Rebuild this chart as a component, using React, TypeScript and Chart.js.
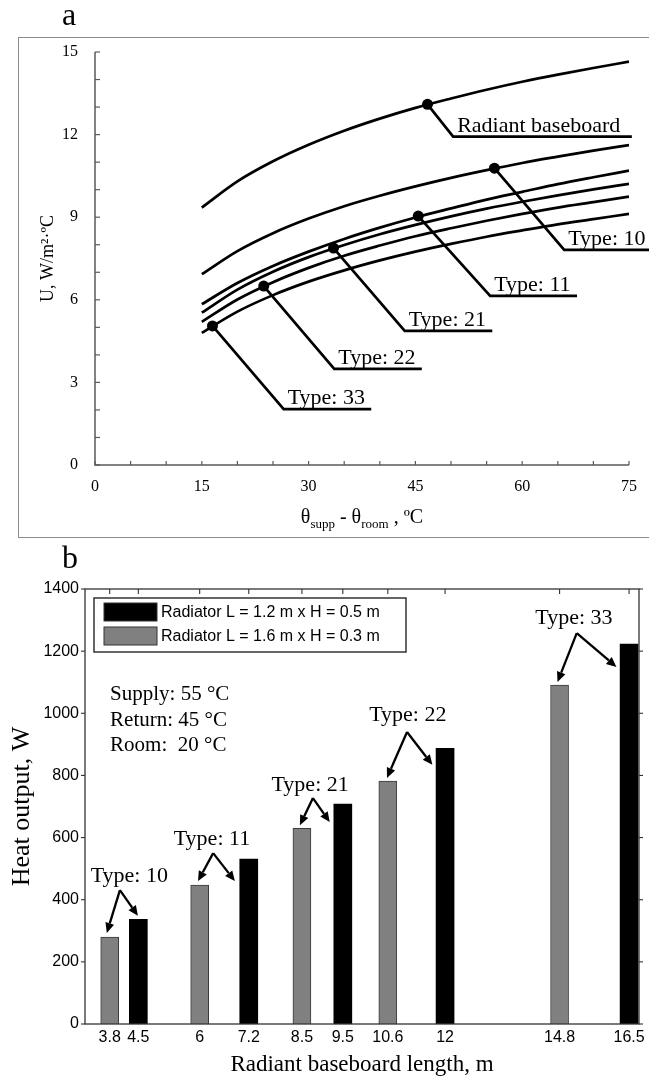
import React, { useEffect, useRef } from 'react';
import { Chart, registerables } from 'chart.js';
Chart.register(...registerables);

const SERIF = "'Liberation Serif', 'Times New Roman', serif";
const SANS = "'Liberation Sans', Arial, sans-serif";

// ---------- Panel a ----------
const DT = [15, 20, 25, 30, 35, 40, 45, 50, 55, 60, 65, 70, 75];
const U_RADIANT = [9.35, 10.3, 11.03, 11.63, 12.14, 12.58, 12.97, 13.31, 13.63, 13.92, 14.18, 14.42, 14.65];
const U_TYPE10 = [6.93, 7.77, 8.42, 8.95, 9.4, 9.78, 10.12, 10.43, 10.71, 10.97, 11.2, 11.42, 11.62];
const U_TYPE11 = [5.84, 6.61, 7.23, 7.75, 8.21, 8.62, 8.99, 9.32, 9.64, 9.92, 10.2, 10.45, 10.69];
const U_TYPE21 = [5.53, 6.37, 7.02, 7.55, 7.99, 8.38, 8.72, 9.03, 9.31, 9.56, 9.79, 10.01, 10.21];
const U_TYPE22 = [5.2, 6.01, 6.64, 7.16, 7.6, 7.97, 8.31, 8.6, 8.87, 9.12, 9.35, 9.55, 9.75];
const U_TYPE33 = [4.8, 5.57, 6.17, 6.66, 7.07, 7.43, 7.75, 8.03, 8.29, 8.52, 8.74, 8.93, 9.12];
const CURVES = [U_RADIANT, U_TYPE10, U_TYPE11, U_TYPE21, U_TYPE22, U_TYPE33];
const CURVE_NAMES = ['Radiant baseboard', 'Type: 10', 'Type: 11', 'Type: 21', 'Type: 22', 'Type: 33'];
const MARK_X = [46.7, 56.1, 45.4, 33.5, 23.7, 16.5];
const MARK_Y = [13.1, 10.78, 9.04, 7.88, 6.5, 5.05];
const ELBOW_X = [50.3, 65.9, 55.5, 43.5, 33.6, 26.5];
const ELBOW_Y = [11.93, 7.81, 6.14, 4.87, 3.49, 2.03];
const LEADER_END_X = [75.4, 78.5, 67.7, 55.8, 45.9, 38.8];

// ---------- Panel b ----------
const LENGTH_TICKS = [3.8, 4.5, 6, 7.2, 8.5, 9.5, 10.6, 12, 14.8, 16.5];
const LEN_12x05 = [4.5, 7.2, 9.5, 12, 16.5];
const Q_12x05 = [337, 531, 708, 887, 1223];
const LEN_16x03 = [3.8, 6, 8.5, 10.6, 14.8];
const Q_16x03 = [280, 447, 630, 782, 1091];
const SERIES_NAMES = ['Radiator L = 1.2 m x H = 0.5 m', 'Radiator L = 1.6 m x H = 0.3 m'];
const TYPE_LABELS = ['Type: 10', 'Type: 11', 'Type: 21', 'Type: 22', 'Type: 33'];
const LABEL_X = [4.28, 6.3, 8.7, 11.09, 15.15];
const LABEL_Y = [476, 595, 769, 993, 1305];
const APEX_X = [4.05, 6.33, 8.77, 11.07, 15.22];
const APEX_Y = [431, 550, 727, 940, 1258];
const HEAD_L_X = [3.73, 5.96, 8.45, 10.58, 14.75];
const HEAD_L_Y = [293, 460, 640, 792, 1101];
const HEAD_R_X = [4.49, 6.86, 9.18, 11.69, 16.19];
const HEAD_R_Y = [348, 460, 650, 834, 1149];
const COND_LINES = ['Supply: 55 °C', 'Return: 45 °C', 'Room:  20 °C'];
const COND_X = 3.81;
const COND_Y = [1043, 959, 879];

function seg(ctx: CanvasRenderingContext2D, x0: number, y0: number, x1: number, y1: number) {
  ctx.beginPath();
  ctx.moveTo(x0, y0);
  ctx.lineTo(x1, y1);
  ctx.stroke();
}

function arrow(ctx: CanvasRenderingContext2D, x0: number, y0: number, x1: number, y1: number) {
  const ang = Math.atan2(y1 - y0, x1 - x0);
  const L = 10, W = 4.5;
  const bx = x1 - L * Math.cos(ang), by = y1 - L * Math.sin(ang);
  seg(ctx, x0, y0, bx, by);
  ctx.beginPath();
  ctx.moveTo(x1, y1);
  ctx.lineTo(bx + W * Math.sin(ang), by - W * Math.cos(ang));
  ctx.lineTo(bx - W * Math.sin(ang), by + W * Math.cos(ang));
  ctx.closePath();
  ctx.fill();
}

const topPlugin = {
  id: 'topDecor',
  afterDraw(chart: any) {
    const { ctx, chartArea: a, scales } = chart;
    const x = scales.x, y = scales.y;
    ctx.save();
    ctx.strokeStyle = '#5a5a5a';
    ctx.lineWidth = 1.5;
    ctx.beginPath();
    ctx.moveTo(a.left, a.top);
    ctx.lineTo(a.left, a.bottom);
    ctx.lineTo(a.right, a.bottom);
    ctx.stroke();
    ctx.lineWidth = 1.2;
    y.ticks.forEach((t: any) => {
      const py = y.getPixelForValue(t.value);
      seg(ctx, a.left, py, a.left + 5, py);
    });
    x.ticks.forEach((t: any) => {
      const px = x.getPixelForValue(t.value);
      seg(ctx, px, a.bottom, px, a.bottom - 4);
    });
    ctx.fillStyle = '#000';
    ctx.font = `22px ${SERIF}`;
    ctx.textAlign = 'left';
    ctx.textBaseline = 'alphabetic';
    CURVE_NAMES.forEach((name, i) => {
      ctx.fillText(name, x.getPixelForValue(ELBOW_X[i]) + 4, y.getPixelForValue(ELBOW_Y[i]) - 5);
    });
    ctx.save();
    ctx.translate(a.left - 47, (a.top + a.bottom) / 2);
    ctx.rotate(-Math.PI / 2);
    ctx.textAlign = 'center';
    ctx.textBaseline = 'middle';
    ctx.font = `18px ${SERIF}`;
    ctx.fillText('U, W/m²·ºC', 0, 0);
    ctx.restore();
    const parts: [string, boolean][] = [['θ', false], ['supp', true], [' - θ', false], ['room', true], [' , ºC', false]];
    const mainF = `20px ${SERIF}`, subF = `13px ${SERIF}`;
    let total = 0;
    parts.forEach(([s, sub]) => { ctx.font = sub ? subF : mainF; total += ctx.measureText(s).width; });
    let cx = (a.left + a.right) / 2 - total / 2;
    const base = a.bottom + 58;
    ctx.textAlign = 'left';
    ctx.textBaseline = 'alphabetic';
    parts.forEach(([s, sub]) => {
      ctx.font = sub ? subF : mainF;
      ctx.fillText(s, cx, sub ? base + 5 : base);
      cx += ctx.measureText(s).width;
    });
    ctx.font = `32px ${SERIF}`;
    ctx.fillText('a', 62, 25);
    ctx.restore();
  },
};

const botPlugin = {
  id: 'botDecor',
  afterDraw(chart: any) {
    const { ctx, chartArea: a, scales } = chart;
    const x = scales.x, y = scales.y;
    ctx.save();
    ctx.strokeStyle = '#333';
    ctx.lineWidth = 1.3;
    ctx.strokeRect(a.left, a.top, a.right - a.left, a.bottom - a.top);
    ctx.lineWidth = 1.1;
    y.ticks.forEach((t: any) => {
      const py = y.getPixelForValue(t.value);
      seg(ctx, a.left - 4, py, a.left, py);
      seg(ctx, a.right, py, a.right + 4, py);
    });
    x.ticks.forEach((t: any) => {
      const px = x.getPixelForValue(t.value);
      seg(ctx, px, a.top, px, a.top + 5);
    });
    const lx = a.left + 9, ly = a.top + 9, lw = 312, lh = 54;
    ctx.fillStyle = '#fff';
    ctx.fillRect(lx, ly, lw, lh);
    ctx.strokeStyle = '#333';
    ctx.lineWidth = 1.5;
    ctx.strokeRect(lx, ly, lw, lh);
    ctx.font = `16px ${SANS}`;
    ctx.textAlign = 'left';
    ctx.textBaseline = 'middle';
    chart.data.datasets.forEach((ds: any, i: number) => {
      const cy = ly + 14 + i * 24;
      ctx.fillStyle = ds.backgroundColor;
      ctx.fillRect(lx + 10, cy - 9, 53, 18);
      ctx.strokeStyle = '#333';
      ctx.lineWidth = 1;
      ctx.strokeRect(lx + 10, cy - 9, 53, 18);
      ctx.fillStyle = '#000';
      ctx.fillText(ds.label, lx + 67, cy + 1);
    });
    ctx.fillStyle = '#000';
    ctx.font = `21px ${SERIF}`;
    ctx.textBaseline = 'alphabetic';
    COND_LINES.forEach((s, i) => {
      ctx.fillText(s, x.getPixelForValue(COND_X), y.getPixelForValue(COND_Y[i]));
    });
    ctx.font = `22px ${SERIF}`;
    ctx.textAlign = 'center';
    ctx.textBaseline = 'middle';
    ctx.strokeStyle = '#000';
    ctx.lineWidth = 2.3;
    TYPE_LABELS.forEach((s, i) => {
      ctx.fillText(s, x.getPixelForValue(LABEL_X[i]), y.getPixelForValue(LABEL_Y[i]));
      const ax = x.getPixelForValue(APEX_X[i]), ay = y.getPixelForValue(APEX_Y[i]);
      arrow(ctx, ax, ay, x.getPixelForValue(HEAD_L_X[i]), y.getPixelForValue(HEAD_L_Y[i]));
      arrow(ctx, ax, ay, x.getPixelForValue(HEAD_R_X[i]), y.getPixelForValue(HEAD_R_Y[i]));
    });
    ctx.save();
    ctx.translate(22, (a.top + a.bottom) / 2);
    ctx.rotate(-Math.PI / 2);
    ctx.font = `26px ${SERIF}`;
    ctx.textAlign = 'center';
    ctx.textBaseline = 'middle';
    ctx.fillText('Heat output, W', 0, 0);
    ctx.restore();
    ctx.font = `23px ${SERIF}`;
    ctx.textAlign = 'center';
    ctx.textBaseline = 'middle';
    ctx.fillText('Radiant baseboard length, m', (a.left + a.right) / 2, a.bottom + 41);
    ctx.font = `32px ${SERIF}`;
    ctx.textAlign = 'left';
    ctx.textBaseline = 'alphabetic';
    ctx.fillText('b', 62, 28);
    ctx.restore();
  },
};

function topConfig(): any {
  const datasets: any[] = [];
  datasets.push({
    data: MARK_X.map((mx, i) => ({ x: mx, y: MARK_Y[i] })),
    showLine: false,
    pointRadius: 5.5,
    pointBackgroundColor: '#000',
    pointBorderColor: '#000',
    pointBorderWidth: 0,
  });
  CURVES.forEach((arr) => {
    datasets.push({
      data: DT.map((d, j) => ({ x: d, y: arr[j] })),
      showLine: true,
      borderColor: '#000',
      borderWidth: 2.7,
      pointRadius: 0,
      cubicInterpolationMode: 'monotone',
    });
  });
  CURVE_NAMES.forEach((_, i) => {
    datasets.push({
      data: [
        { x: MARK_X[i], y: MARK_Y[i] },
        { x: ELBOW_X[i], y: ELBOW_Y[i] },
        { x: LEADER_END_X[i], y: ELBOW_Y[i] },
      ],
      showLine: true,
      borderColor: '#000',
      borderWidth: 2.7,
      borderJoinStyle: 'miter',
      pointRadius: 0,
      tension: 0,
      clip: false,
    });
  });
  return {
    type: 'scatter',
    data: { datasets },
    options: {
      responsive: false,
      animation: false,
      events: [],
      layout: { padding: { left: 0, right: 20, top: 52, bottom: 0 } },
      plugins: { legend: { display: false }, tooltip: { enabled: false } },
      scales: {
        x: {
          type: 'linear', min: 0, max: 75,
          grid: { display: false, drawTicks: false }, border: { display: false },
          ticks: {
            stepSize: 5, autoSkip: false, maxRotation: 0, minRotation: 0, padding: 12, color: '#000',
            font: { family: SERIF, size: 16 },
            callback: (v: number) => (v % 15 === 0 ? String(v) : ''),
          },
          afterFit: (s: any) => { s.height = 75; s.paddingLeft = 0; s.paddingRight = 0; },
        },
        y: {
          type: 'linear', min: 0, max: 15,
          grid: { display: false, drawTicks: false }, border: { display: false },
          ticks: {
            stepSize: 1, autoSkip: false, padding: 17, color: '#000',
            font: { family: SERIF, size: 16 },
            callback: (v: number) => (v % 3 === 0 ? String(v) : ''),
          },
          afterFit: (s: any) => { s.width = 95; s.paddingTop = 0; s.paddingBottom = 0; },
        },
      },
    },
    plugins: [topPlugin],
  };
}

function botConfig(): any {
  return {
    type: 'bar',
    data: {
      datasets: [
        {
          label: SERIES_NAMES[0],
          data: LEN_12x05.map((l, i) => ({ x: l, y: Q_12x05[i] })),
          backgroundColor: '#000000',
          borderColor: '#000000',
          borderWidth: 0,
          grouped: false,
          maxBarThickness: 18,
          barPercentage: 1,
          categoryPercentage: 1,
        },
        {
          label: SERIES_NAMES[1],
          data: LEN_16x03.map((l, i) => ({ x: l, y: Q_16x03[i] })),
          backgroundColor: '#808080',
          borderColor: '#3a3a3a',
          borderWidth: 1,
          grouped: false,
          maxBarThickness: 18,
          barPercentage: 1,
          categoryPercentage: 1,
        },
      ],
    },
    options: {
      responsive: false,
      animation: false,
      events: [],
      layout: { padding: { left: 0, right: 10, top: 49, bottom: 0 } },
      plugins: { legend: { display: false }, tooltip: { enabled: false } },
      scales: {
        x: {
          type: 'linear', min: 3.196, max: 16.742, offset: false,
          grid: { display: false, drawTicks: false, offset: false }, border: { display: false },
          afterBuildTicks: (s: any) => { s.ticks = LENGTH_TICKS.map((v) => ({ value: v })); },
          ticks: {
            autoSkip: false, maxRotation: 0, minRotation: 0, padding: 4, color: '#000',
            font: { family: SANS, size: 16 },
            callback: (v: number) => String(v),
          },
          afterFit: (s: any) => { s.height = 52; s.paddingLeft = 0; s.paddingRight = 0; },
        },
        y: {
          type: 'linear', min: 0, max: 1400,
          grid: { display: false, drawTicks: false }, border: { display: false },
          ticks: {
            stepSize: 200, padding: 6, color: '#000',
            font: { family: SANS, size: 16 },
            callback: (v: number) => String(v),
          },
          afterFit: (s: any) => { s.width = 85; s.paddingTop = 0; s.paddingBottom = 0; },
        },
      },
    },
    plugins: [botPlugin],
  };
}

export default function App() {
  const topRef = useRef<HTMLCanvasElement>(null);
  const botRef = useRef<HTMLCanvasElement>(null);
  useEffect(() => {
    const c1 = new Chart(topRef.current as HTMLCanvasElement, topConfig());
    const c2 = new Chart(botRef.current as HTMLCanvasElement, botConfig());
    return () => {
      c1.destroy();
      c2.destroy();
    };
  }, []);
  return (
    <div style={{ position: 'absolute', left: 0, top: 0, width: 649, height: 1076, overflow: 'hidden', background: '#fff' }}>
      <div style={{ position: 'absolute', left: 18, top: 37, width: 700, height: 501, border: '1.5px solid #8c8c8c', boxSizing: 'border-box' }} />
      <canvas ref={topRef} width={649} height={540} style={{ position: 'absolute', left: 0, top: 0 }} />
      <canvas ref={botRef} width={649} height={536} style={{ position: 'absolute', left: 0, top: 540 }} />
    </div>
  );
}
